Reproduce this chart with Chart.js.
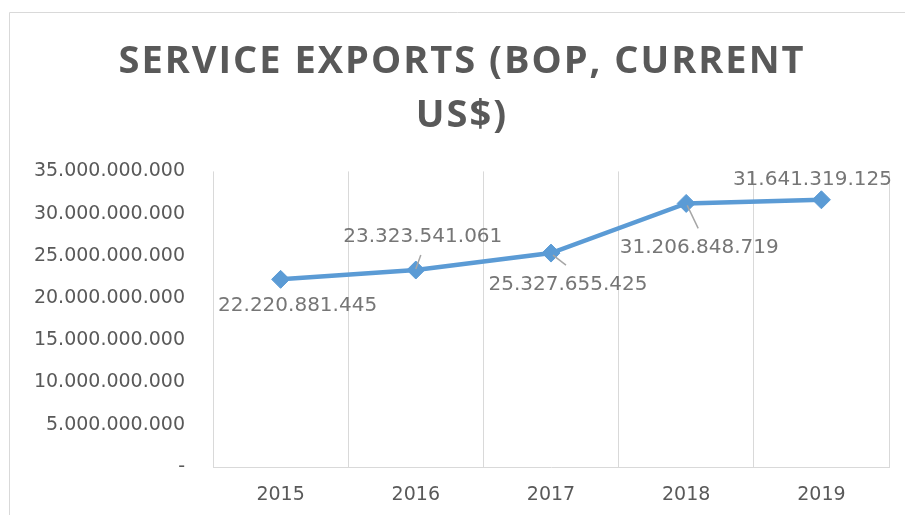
<!DOCTYPE html>
<html>
<head>
<meta charset="utf-8">
<script src="https://cdn.jsdelivr.net/npm/chart.js@4.4.1/dist/chart.umd.min.js"></script>
<style>
  html, body { margin: 0; padding: 0; background: #ffffff; overflow: hidden; }
  canvas { display: block; }
</style>
</head>
<body>
<canvas id="c" width="905" height="515"></canvas>
<script>
// ---- data ----
const years = ['2015', '2016', '2017', '2018', '2019'];
const serviceExports = [22220881445, 23323541061, 25327655425, 31206848719, 31641319125];
const yTickValues = [0, 5000000000, 10000000000, 15000000000, 20000000000, 25000000000, 30000000000, 35000000000];
const titleLines = ['SERVICE EXPORTS (BOP, CURRENT', 'US$)'];

function fmtDots(v) {
  if (v === 0) return '-';
  return String(Math.round(v)).replace(/\B(?=(\d{3})+(?!\d))/g, '.');
}

// outer chart frame (left and top edges visible in the reference crop)
const frame = {
  id: 'frame',
  beforeDraw(chart) {
    const ctx = chart.ctx;
    ctx.save();
    ctx.strokeStyle = '#d9d9d9';
    ctx.lineWidth = 1;
    ctx.beginPath();
    ctx.moveTo(9.5, chart.height);
    ctx.lineTo(9.5, 12.5);
    ctx.lineTo(chart.width, 12.5);
    ctx.stroke();
    ctx.restore();
  }
};

// title letter spacing
const titleSpacing = {
  id: 'titleSpacing',
  beforeDraw(chart) {
    const tb = chart.titleBlock;
    if (tb && !tb._wrapped) {
      const orig = tb.draw.bind(tb);
      tb.draw = function () {
        const ctx = chart.ctx;
        ctx.save();
        ctx.letterSpacing = '2px';
        orig();
        ctx.restore();
      };
      tb._wrapped = true;
    }
  }
};

// data labels with leader lines
const pointLabels = {
  id: 'pointLabels',
  afterDatasetsDraw(chart, args, opts) {
    const ctx = chart.ctx;
    const meta = chart.getDatasetMeta(0);
    const data = chart.data.datasets[0].data;
    meta.data.forEach((pt, i) => {
      const off = opts.offsets[i];
      const ld = opts.leaders[i];
      if (ld) {
        ctx.save();
        ctx.strokeStyle = opts.leaderColor;
        ctx.lineWidth = 1.5;
        ctx.beginPath();
        ctx.moveTo(pt.x + ld[0], pt.y + ld[1]);
        ctx.lineTo(pt.x + ld[2], pt.y + ld[3]);
        ctx.stroke();
        ctx.restore();
      }
      ctx.save();
      ctx.font = opts.font;
      ctx.fillStyle = opts.color;
      ctx.textAlign = 'center';
      ctx.textBaseline = 'middle';
      ctx.fillText(fmtDots(data[i]), pt.x + off[0], pt.y + off[1]);
      ctx.restore();
    });
  }
};

new Chart(document.getElementById('c'), {
  type: 'line',
  data: {
    labels: years,
    datasets: [{
      data: serviceExports,
      borderColor: '#5b9bd5',
      backgroundColor: '#5b9bd5',
      borderWidth: 4.5,
      pointStyle: 'rectRot',
      pointRadius: 9,
      pointHoverRadius: 9,
      pointBackgroundColor: '#5b9bd5',
      pointBorderColor: '#5b9bd5',
      pointBorderWidth: 1,
      tension: 0,
      fill: false
    }]
  },
  options: {
    responsive: false,
    animation: false,
    events: [],
    layout: { padding: { left: 35, right: 16, top: 0, bottom: 6 } },
    plugins: {
      legend: { display: false },
      tooltip: { enabled: false },
      title: {
        display: true,
        text: titleLines,
        color: '#595959',
        font: { family: '"Open Sans"', size: 38, weight: 'bold', lineHeight: 1.4 },
        padding: { top: 36, bottom: 29 }
      },
      pointLabels: {
        font: '20px "DejaVu Sans"',
        color: '#767676',
        leaderColor: '#a6a6a6',
        offsets: [[17, 26], [7, -33], [17, 32], [13, 44], [-9, -20]],
        leaders: [null, [0, -1, 5, -15], [2, 2, 15, 12], [1, 2, 12, 25], null]
      }
    },
    scales: {
      x: {
        offset: true,
        grid: { offset: true, display: true, color: '#d9d9d9', lineWidth: 1, drawTicks: false },
        border: { display: true, color: '#d9d9d9', width: 1 },
        ticks: { color: '#595959', font: { family: '"DejaVu Sans"', size: 19 }, padding: 17, maxRotation: 0 },
        afterFit(scale) { scale.height = 42; }
      },
      y: {
        min: 0,
        max: 35000000000,
        afterBuildTicks(scale) { scale.ticks = yTickValues.map(v => ({ value: v })); },
        grid: { display: false, drawTicks: false },
        border: { display: false },
        ticks: {
          color: '#595959',
          font: { family: '"DejaVu Sans"', size: 19 },
          padding: 28,
          callback: (v) => fmtDots(v)
        },
        afterFit(scale) { scale.width = 178; }
      }
    }
  },
  plugins: [frame, titleSpacing, pointLabels]
});
</script>
</body>
</html>
